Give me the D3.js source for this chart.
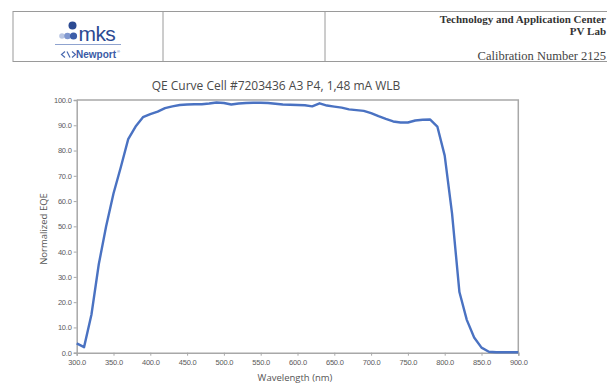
<!DOCTYPE html>
<html>
<head>
<meta charset="utf-8">
<script src="https://cdn.jsdelivr.net/npm/d3@7"></script>
<style>
  html, body { margin: 0; padding: 0; background: #fff; }
  svg { display: block; }
</style>
</head>
<body>
<svg id="chart" width="607" height="383"></svg>
<script>
// Normalized external quantum efficiency, sampled every 10 nm
const wavelengths = [
  300, 310, 320, 330, 340, 350, 360, 370, 380, 390,
  400, 410, 420, 430, 440, 450, 460, 470, 480, 490,
  500, 510, 520, 530, 540, 550, 560, 570, 580, 590,
  600, 610, 620, 630, 640, 650, 660, 670, 680, 690,
  700, 710, 720, 730, 740, 750, 760, 770, 780, 790,
  800, 810, 820, 830, 840, 850, 860, 870, 880, 890, 900
];
const eqe = [
  3.7, 2.2, 15.0, 35.0, 50.0, 63.0, 73.5, 84.5, 89.5, 93.2,
  94.4, 95.4, 96.8, 97.5, 98.0, 98.2, 98.3, 98.3, 98.6, 99.0,
  98.8, 98.2, 98.6, 98.8, 98.9, 98.9, 98.8, 98.5, 98.2, 98.1,
  98.0, 97.9, 97.5, 98.7, 97.8, 97.4, 97.0, 96.3, 96.0, 95.7,
  94.8, 93.6, 92.5, 91.5, 91.1, 91.1, 91.9, 92.2, 92.3, 89.5,
  78.0, 55.0, 24.0, 13.0, 6.0, 2.0, 0.4, 0.2, 0.2, 0.2, 0.2
];
const xTicks = [300, 350, 400, 450, 500, 550, 600, 650, 700, 750, 800, 850, 900];
const yTicks = [0, 10, 20, 30, 40, 50, 60, 70, 80, 90, 100];

const chartTitle = "QE Curve Cell #7203436 A3 P4, 1,48 mA WLB";
const xTitle = "Wavelength (nm)";
const yTitle = "Normalized EQE";

const svg = d3.select("#chart");

// ---- Report header block ----
const head = svg.append("g");
const frameColor = "#9a9a9a";
head.append("rect")
  .attr("x", 13).attr("y", 11.5).attr("width", 600).attr("height", 50)
  .attr("fill", "none").attr("stroke", frameColor).attr("stroke-width", 1);
[163, 325].forEach(x => head.append("line")
  .attr("x1", x).attr("x2", x).attr("y1", 11.5).attr("y2", 61.5)
  .attr("stroke", frameColor).attr("stroke-width", 1));

// mks logo: three dots plus the dot above
const logo = head.append("g");
logo.append("circle").attr("cx", 62).attr("cy", 36).attr("r", 2.8).attr("fill", "#b9c6e3");
logo.append("circle").attr("cx", 67.5).attr("cy", 36).attr("r", 3.3).attr("fill", "#7f97cf");
logo.append("circle").attr("cx", 73.5).attr("cy", 36).attr("r", 3.6).attr("fill", "#3d5ea8");
logo.append("circle").attr("cx", 72.5).attr("cy", 25.5).attr("r", 4).attr("fill", "#2c4a92");
logo.append("text").attr("x", 78.5).attr("y", 40.5)
  .attr("font-family", "Liberation Sans, Arial, sans-serif")
  .attr("font-size", 21).attr("fill", "#2c4a92")
  .attr("letter-spacing", -0.6)
  .text("mks");
logo.append("line").attr("x1", 55).attr("x2", 121).attr("y1", 44.5).attr("y2", 44.5)
  .attr("stroke", "#8fa3cf").attr("stroke-width", 1);
// Newport mark
logo.append("path")
  .attr("d", "M65 51.5 L61.5 54.5 L65 57.5 M67 51.5 L70 57.5 M72 51.5 L75.5 54.5 L72 57.5")
  .attr("fill", "none").attr("stroke", "#4a6bb0").attr("stroke-width", 1.2);
logo.append("text").attr("x", 76).attr("y", 58)
  .attr("font-family", "Liberation Sans, Arial, sans-serif")
  .attr("font-size", 10).attr("font-weight", "bold").attr("fill", "#3a5aa6")
  .text("Newport");
logo.append("text").attr("x", 117).attr("y", 53)
  .attr("font-family", "Liberation Sans, Arial, sans-serif")
  .attr("font-size", 4).attr("fill", "#3a5aa6").text("®");

const serif = "Liberation Serif, 'Times New Roman', serif";
head.append("text").attr("x", 606).attr("y", 23).attr("text-anchor", "end")
  .attr("font-family", serif).attr("font-size", 11).attr("font-weight", "bold")
  .attr("fill", "#333").text("Technology and Application Center");
head.append("text").attr("x", 606).attr("y", 35).attr("text-anchor", "end")
  .attr("font-family", serif).attr("font-size", 11).attr("font-weight", "bold")
  .attr("fill", "#333").text("PV Lab");
head.append("text").attr("x", 606).attr("y", 60).attr("text-anchor", "end")
  .attr("font-family", serif).attr("font-size", 12.5)
  .attr("fill", "#444").text("Calibration Number 2125");

// ---- QE chart ----
const plot = { left: 76.7, right: 518.3, top: 100, bottom: 352.7 };
const x = d3.scaleLinear().domain([300, 900]).range([plot.left, plot.right]);
const y = d3.scaleLinear().domain([0, 100]).range([plot.bottom, plot.top]);

const axisColor = "#a8a8a8";
const tickFont = "Liberation Sans, Arial, sans-serif";

// plot frame (top and right edges)
svg.append("path")
  .attr("d", `M${plot.left},${plot.top} H${plot.right} V${plot.bottom}`)
  .attr("fill", "none").attr("stroke", axisColor).attr("stroke-width", 1.5);

const fmt = d3.format(".1f");

const gx = svg.append("g").attr("transform", `translate(0,${plot.bottom})`)
  .call(d3.axisBottom(x).tickValues(xTicks).tickFormat(fmt).tickSize(3).tickPadding(3.5));
const gy = svg.append("g").attr("transform", `translate(${plot.left},0)`)
  .call(d3.axisLeft(y).tickValues(yTicks).tickFormat(fmt).tickSize(3).tickPadding(2));

[gx, gy].forEach(g => {
  g.select(".domain").attr("stroke", axisColor).attr("stroke-width", 1.5);
  g.selectAll(".tick line").attr("stroke", axisColor).attr("stroke-width", 1);
  g.selectAll(".tick text")
    .attr("font-family", tickFont).attr("font-size", 7.5)
    .attr("letter-spacing", -0.2).attr("fill", "#5a5a5a");
});

// EQE curve
const points = wavelengths.map((w, i) => [w, eqe[i]]);
svg.append("path")
  .datum(points)
  .attr("fill", "none")
  .attr("stroke", "#4a72c2")
  .attr("stroke-width", 2.4)
  .attr("stroke-linejoin", "round")
  .attr("d", d3.line().x(d => x(d[0])).y(d => y(d[1])));

// titles
const uiFont = "'Open Sans', 'Noto Sans', sans-serif";
svg.append("text").attr("x", 276).attr("y", 90).attr("text-anchor", "middle")
  .attr("font-family", uiFont).attr("font-size", 12).attr("fill", "#4a4a4a")
  .text(chartTitle);
svg.append("text").attr("x", 295).attr("y", 381).attr("text-anchor", "middle")
  .attr("font-family", uiFont).attr("font-size", 9.5).attr("fill", "#555")
  .text(xTitle);
svg.append("text")
  .attr("transform", `translate(47,229) rotate(-90)`)
  .attr("text-anchor", "middle")
  .attr("font-family", uiFont).attr("font-size", 9.5).attr("fill", "#555")
  .text(yTitle);
</script>
</body>
</html>
